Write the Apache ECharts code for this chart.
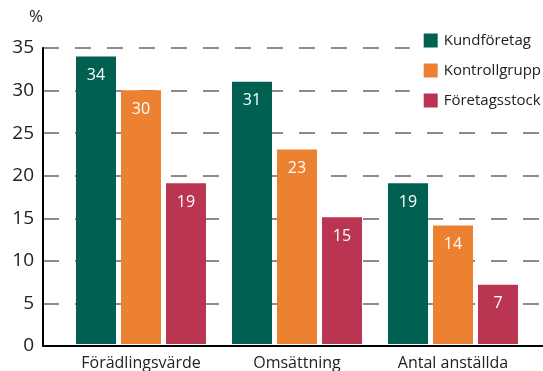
<!DOCTYPE html>
<html>
<head>
<meta charset="utf-8">
<script src="https://cdn.jsdelivr.net/npm/echarts@6/dist/echarts.min.js"></script>
<style>
  html, body { margin: 0; padding: 0; background: #fff; }
  #main { width: 543px; height: 371px; }
</style>
</head>
<body>
<div id="main"></div>
<script>
const categories = ['Förädlingsvärde', 'Omsättning', 'Antal anställda'];
const kundforetag = [34, 31, 19];
const kontrollgrupp = [30, 23, 14];
const foretagsstock = [19, 15, 7];
const yTicks = [0, 5, 10, 15, 20, 25, 30, 35];

const font = '"Open Sans", sans-serif';
const chart = echarts.init(document.getElementById('main'), null, { renderer: 'canvas' });

const barLabel = {
    show: true,
    position: 'insideTop',
    distance: 11,
    color: '#fff',
    fontSize: 16,
    fontFamily: font
};

const option = {
    backgroundColor: '#fff',
    animation: false,
    color: ['#006152', '#ec8131', '#b93552'],
    grid: [
        // bars
        { left: 63, right: 12, top: 48, bottom: 25 },
        // axes frame
        { left: 43, right: 0, top: 48, bottom: 25 }
    ],
    legend: {
        orient: 'vertical',
        right: 0,
        top: 26,
        backgroundColor: '#fff',
        padding: [7, 2, 7, 14],
        itemWidth: 14,
        itemHeight: 14,
        itemGap: 15,
        icon: 'rect',
        textStyle: { fontSize: 15, fontFamily: font, color: '#222', padding: [0, 0, 0, 1] },
        data: ['Kundföretag', 'Kontrollgrupp', 'Företagsstock']
    },
    xAxis: [
        {
            type: 'category',
            gridIndex: 0,
            data: categories,
            axisLine: { show: false },
            axisTick: { show: false },
            axisLabel: { margin: 11, fontSize: 16, fontFamily: font, color: '#222' }
        },
        {
            type: 'value',
            gridIndex: 1,
            min: 0,
            max: 1,
            axisLine: { show: true, lineStyle: { color: '#000', width: 2 } },
            axisTick: { show: false },
            axisLabel: { show: false },
            splitLine: { show: false }
        }
    ],
    yAxis: [
        {
            type: 'value',
            gridIndex: 0,
            min: 0,
            max: 35,
            show: false
        },
        {
            type: 'value',
            gridIndex: 1,
            min: yTicks[0],
            max: yTicks[yTicks.length - 1],
            interval: 5,
            name: '%',
            nameGap: 22,
            nameTextStyle: { fontSize: 17, fontFamily: font, color: '#222', align: 'right' },
            axisLine: { show: true, lineStyle: { color: '#000', width: 2 } },
            axisTick: { show: false },
            axisLabel: { margin: 9, fontSize: 19, fontFamily: font, color: '#222' },
            splitLine: {
                show: true,
                lineStyle: { color: '#666', width: 1.5, type: [16, 16] }
            }
        }
    ],
    series: [
        {
            name: 'Kundföretag',
            type: 'bar',
            xAxisIndex: 0,
            yAxisIndex: 0,
            barWidth: 40,
            barGap: '12.5%',
            label: barLabel,
            data: kundforetag
        },
        {
            name: 'Kontrollgrupp',
            type: 'bar',
            xAxisIndex: 0,
            yAxisIndex: 0,
            barWidth: 40,
            barGap: '12.5%',
            label: barLabel,
            data: kontrollgrupp
        },
        {
            name: 'Företagsstock',
            type: 'bar',
            xAxisIndex: 0,
            yAxisIndex: 0,
            barWidth: 40,
            barGap: '12.5%',
            label: barLabel,
            data: foretagsstock
        }
    ]
};

chart.setOption(option);
</script>
</body>
</html>
